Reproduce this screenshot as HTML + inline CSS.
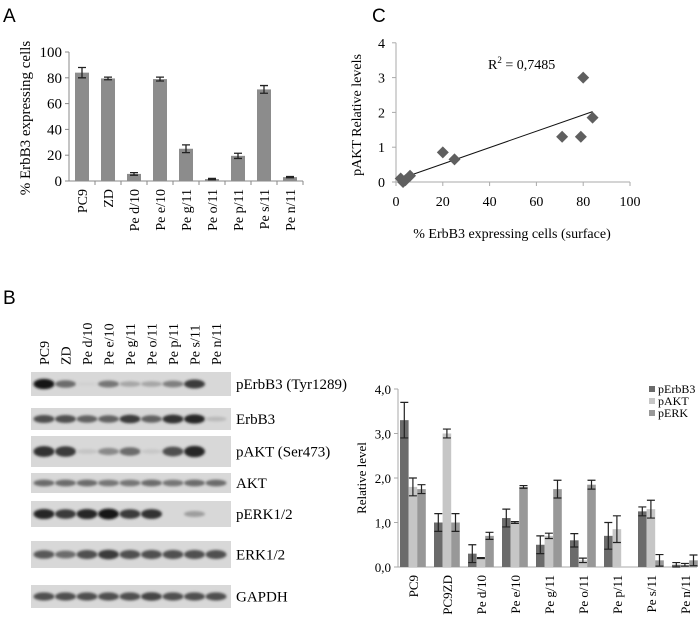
<!DOCTYPE html>
<html><head><meta charset="utf-8"><style>
body{margin:0;background:#fff;width:699px;height:624px;overflow:hidden;font-family:"Liberation Serif",serif;}
svg{position:absolute;left:0;top:0}
</style></head><body>
<svg id="s" width="699" height="624" xmlns="http://www.w3.org/2000/svg">
<defs><filter id="bl" x="-20%" y="-50%" width="140%" height="200%"><feGaussianBlur stdDeviation="1.4"/></filter></defs>
<text x="3" y="22" font-family="Liberation Sans" font-size="19">A</text>
<text x="372" y="22" font-family="Liberation Sans" font-size="19">C</text>
<text x="3" y="304" font-family="Liberation Sans" font-size="19">B</text>
<g id="A"></g>
<g id="C"></g>
<g id="W"></g>
<g id="B"></g>
</svg>
<script>
const NS="http://www.w3.org/2000/svg";
function el(p,t,a,txt){const e=document.createElementNS(NS,t);for(const k in a)e.setAttribute(k,a[k]);if(txt!==undefined)e.textContent=txt;p.appendChild(e);return e;}
// ---- Panel A data
const aCats=["PC9","ZD","Pe d/10","Pe e/10","Pe g/11","Pe o/11","Pe p/11","Pe s/11","Pe n/11"];
const aVals=[84,79.5,5.5,79,25,1.5,19.5,71,3];
const aErr=[4,1,1,1.5,3,0.5,2,3,0.5];
const aTicks=[0,20,40,60,80,100];
// ---- Panel C data
const cX=[2,3,4,6,20,25,71,79,80,84];
const cY=[0.1,0,0.05,0.18,0.85,0.65,1.3,1.3,3.0,1.85];
const cXTicks=[0,20,40,60,80,100];
const cYTicks=[0,1,2,3,4];
// ---- Panel B data
const bCats=["PC9","PC9ZD","Pe d/10","Pe e/10","Pe g/11","Pe o/11","Pe p/11","Pe s/11","Pe n/11"];
const bErbB3=[3.3,1.0,0.3,1.1,0.5,0.6,0.7,1.25,0.05];
const bErbB3Err=[0.4,0.2,0.2,0.2,0.2,0.15,0.3,0.1,0.05];
const bAKT=[1.8,3.0,0.2,1.0,0.7,0.15,0.85,1.3,0.05];
const bAKTErr=[0.2,0.1,0.01,0.02,0.06,0.05,0.3,0.2,0.03];
const bERK=[1.75,1.0,0.7,1.8,1.75,1.85,0,0.15,0.15];
const bERKErr=[0.1,0.2,0.08,0.03,0.2,0.1,0,0.13,0.12];
const bTicks=["0,0","1,0","2,0","3,0","4,0"];
const bSeries=["pErbB3","pAKT","pERK"];
const fs='font-family:"Liberation Serif",serif';
// Panel A
(function(){
const g=document.getElementById('A');
const x0=69,x1=303,yA=v=>181-v*1.29;
el(g,'line',{x1:x0,y1:52,x2:x0,y2:181,stroke:'#888'});
el(g,'line',{x1:x0,y1:181,x2:x1,y2:181,stroke:'#888'});
aTicks.forEach(t=>{el(g,'line',{x1:x0-4,y1:yA(t),x2:x0,y2:yA(t),stroke:'#888'});
 const tx=el(g,'text',{x:x0-7,y:yA(t)+5,'text-anchor':'end','font-size':15,style:fs},t);});
const w=(x1-x0)/aCats.length;
aCats.forEach((c,i)=>{const cx=x0+w*(i+0.5);
 el(g,'line',{x1:x0+w*(i+1),y1:181,x2:x0+w*(i+1),y2:185,stroke:'#888'});
 const r=el(g,'rect',{x:cx-7,y:yA(aVals[i]),width:14,height:181-yA(aVals[i]),fill:'#8c8c8c'});
 
 const e1=yA(aVals[i]+aErr[i]),e2=yA(aVals[i]-aErr[i]);
 el(g,'path',{d:`M${cx} ${e1}V${e2}M${cx-4} ${e1}H${cx+4}M${cx-4} ${e2}H${cx+4}`,stroke:'#222','stroke-width':1.3,fill:'none'});
 const t=el(g,'text',{x:0,y:0,transform:`translate(${cx+5},189) rotate(-90)`,'text-anchor':'end','font-size':14,style:fs},c);
 });
const yt=el(g,'text',{transform:'translate(30,118) rotate(-90)','text-anchor':'middle','font-size':15,style:fs},'% ErbB3 expressing cells');

})();
// Panel C
(function(){
const g=document.getElementById('C');
const X=v=>396+v*2.34,Y=v=>182-v*34.8;
el(g,'line',{x1:396,y1:Y(4),x2:396,y2:182,stroke:'#aaa'});
el(g,'line',{x1:396,y1:182,x2:X(100),y2:182,stroke:'#aaa'});
cYTicks.forEach(t=>{el(g,'line',{x1:392,y1:Y(t),x2:396,y2:Y(t),stroke:'#aaa'});
 const tx=el(g,'text',{x:385,y:Y(t)+5,'text-anchor':'end','font-size':14,style:fs},t);});
cXTicks.forEach(t=>{el(g,'line',{x1:X(t),y1:182,x2:X(t),y2:186,stroke:'#aaa'});
 const tx=el(g,'text',{x:X(t),y:206,'text-anchor':'middle','font-size':14,style:fs},t);});
const n=cX.length,mx=cX.reduce((a,b)=>a+b)/n,my=cY.reduce((a,b)=>a+b)/n;
let sxy=0,sxx=0;cX.forEach((x,i)=>{sxy+=(x-mx)*(cY[i]-my);sxx+=(x-mx)**2;});
const sl=sxy/sxx,ic=my-sl*mx,xa=Math.min(...cX),xb=Math.max(...cX);
const tl=el(g,'line',{x1:X(xa),y1:Y(ic+sl*xa),x2:X(xb),y2:Y(ic+sl*xb),stroke:'#111','stroke-width':1});

cX.forEach((x,i)=>{const px=X(x),py=Y(cY[i]);
 const p=el(g,'path',{d:`M${px} ${py-6}L${px+6} ${py}L${px} ${py+6}L${px-6} ${py}Z`,fill:'#5f5f5f'});
 });
const r=el(g,'text',{x:488,y:69,'font-size':14,style:fs});r.innerHTML='R<tspan font-size="9" dy="-6">2</tspan><tspan dy="6"> = 0,7485</tspan>';

const xt=el(g,'text',{x:512,y:238,'text-anchor':'middle','font-size':14,style:fs},'% ErbB3 expressing cells (surface)');

const yt=el(g,'text',{transform:'translate(361,115) rotate(-90)','text-anchor':'middle','font-size':14,style:fs},'pAKT Relative levels');

})();
// Western blot
(function(){
const g=document.getElementById('W');
const lanes=["PC9","ZD","Pe d/10","Pe e/10","Pe g/11","Pe o/11","Pe p/11","Pe s/11","Pe n/11"];
const lx=i=>44+i*21.5;
lanes.forEach((l,i)=>{const t=el(g,'text',{transform:`translate(${lx(i)+5},365) rotate(-90)`,'font-size':14,style:fs},l);
 });
const rows=[
 ["pErbB3 (Tyr1289)",372,396,[1,.55,.03,.5,.25,.25,.45,.8,0]],
 ["ErbB3",408,430,[.7,.7,.6,.6,.8,.6,.85,.9,.15]],
 ["pAKT (Ser473)",436,467,[.85,.8,.1,.4,.55,.08,.7,.9,0]],
 ["AKT",473,493,[.55,.55,.55,.5,.5,.55,.5,.55,.55]],
 ["pERK1/2",501,527,[.9,.8,.9,1,.8,.85,0,.3,0]],
 ["ERK1/2",541,568,[.65,.55,.7,.8,.7,.7,.7,.7,.7]],
 ["GAPDH",585,608,[.7,.7,.7,.7,.7,.75,.7,.7,.7]]];
rows.forEach(r=>{const [name,y0,y1,ints]=r;
 const rr=el(g,'rect',{x:31,y:y0,width:200,height:y1-y0,fill:'#d8d8d8'});
 
 const cy=(y0+y1)/2;
 ints.forEach((v,i)=>{if(v<=0)return;const c=Math.round(215-195*v);
  el(g,'ellipse',{cx:lx(i),cy:cy,rx:10.5,ry:2+v*(y1-y0)*0.13,fill:`rgb(${c},${c},${c})`,filter:'url(#bl)'});});
 const t=el(g,'text',{x:236,y:cy+5,'font-size':15,style:fs},name);
 });
})();
// Panel B bar chart
(function(){
const g=document.getElementById('B');
const y0=567,Y=v=>y0-v*44.5,x0=398,gw=34,bw=8.6;
el(g,'line',{x1:x0,y1:Y(4),x2:x0,y2:y0,stroke:'#aaa'});
el(g,'line',{x1:x0,y1:y0,x2:697,y2:y0,stroke:'#aaa'});
bTicks.forEach((t,i)=>{el(g,'line',{x1:x0-4,y1:Y(i),x2:x0,y2:Y(i),stroke:'#aaa'});
 const tx=el(g,'text',{x:x0-7,y:Y(i)+5,'text-anchor':'end','font-size':13,style:fs},t);});
const cols=['#6b6b6b','#c6c6c6','#989898'];
const series=[[bErbB3,bErbB3Err],[bAKT,bAKTErr],[bERK,bERKErr]];
bCats.forEach((c,i)=>{const gx=x0+2+i*gw;
 series.forEach((s,k)=>{const v=s[0][i],e=s[1][i],bx=gx+k*bw,cx=bx+bw/2;
  if(v>0){const r=el(g,'rect',{x:bx,y:Y(v),width:bw,height:y0-Y(v),fill:cols[k]});
   
   const e1=Y(v+e),e2=Y(Math.max(0,v-e));
   el(g,'path',{d:`M${cx} ${e1}V${e2}M${cx-4} ${e1}H${cx+4}M${cx-4} ${e2}H${cx+4}`,stroke:'#222','stroke-width':1.2,fill:'none'});}});
 const t=el(g,'text',{transform:`translate(${gx+bw*1.5+5},575) rotate(-90)`,'text-anchor':'end','font-size':13,style:fs},c);
 });
bSeries.forEach((s,k)=>{el(g,'rect',{x:649,y:386+k*12,width:6,height:6,fill:cols[k]});
 const t=el(g,'text',{x:658,y:393+k*12,'font-size':12,style:fs},s);
 });
const yt=el(g,'text',{transform:'translate(366,478) rotate(-90)','text-anchor':'middle','font-size':13,style:fs},'Relative level');

})();
</script>
</body></html>
